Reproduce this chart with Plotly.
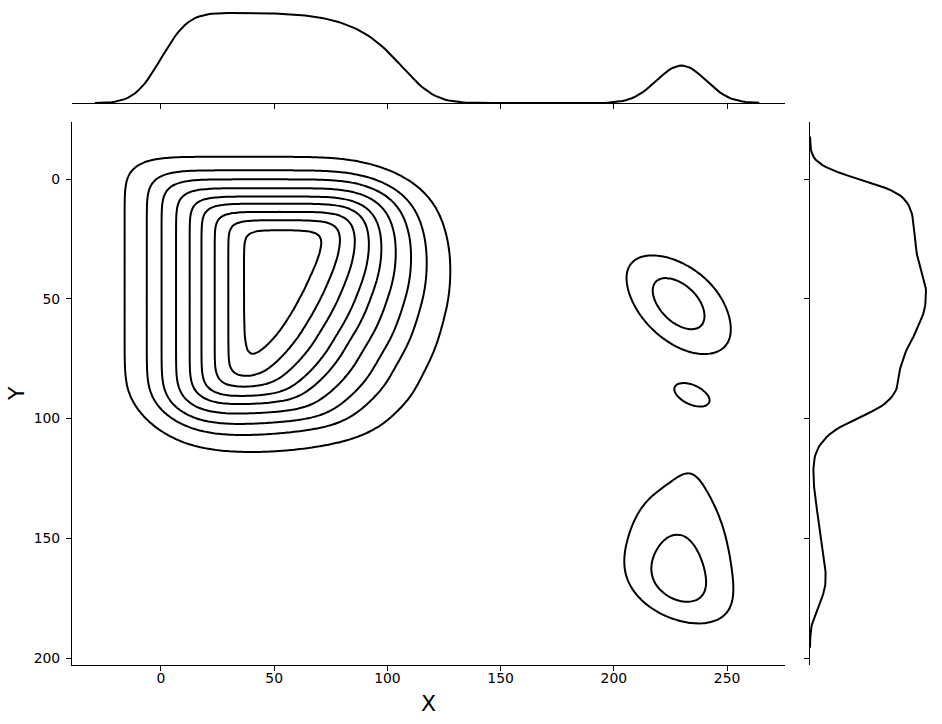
import numpy as np
import plotly.graph_objects as go

# ---------------- data ----------------
# Main cluster: observation counts in 10x10 bins (bin centres below)
BIN_W = 10
BIN_X = [5, 15, 25, 35, 45, 55, 65, 75, 85, 95, 105, 115]
BIN_Y = [5, 15, 25, 35, 45, 55, 65, 75, 85, 95, 105]
MAIN_COUNTS = [
    [60, 60, 60, 60, 60, 60, 60, 60, 60, 51, 24, 0],
    [60, 60, 60, 60, 60, 60, 60, 60, 60, 60, 46, 3],
    [60, 60, 60, 60, 60, 60, 60, 60, 60, 60, 57, 8],
    [60, 60, 60, 60, 60, 60, 60, 60, 60, 60, 57, 9],
    [60, 60, 60, 60, 60, 60, 60, 60, 60, 60, 50, 8],
    [60, 60, 60, 60, 60, 60, 60, 60, 60, 58, 36, 4],
    [60, 60, 60, 60, 60, 60, 60, 60, 60, 50, 24, 2],
    [60, 60, 60, 60, 60, 60, 60, 60, 57, 30, 12, 0],
    [60, 60, 60, 60, 60, 60, 60, 58, 40, 20, 5, 0],
    [56, 60, 60, 60, 60, 60, 58, 38, 18, 5, 0, 0],
    [12, 16, 18, 18, 17, 12, 8, 4, 0, 0, 0, 0],
]

# Small groups on the right: observation counts at (x, y)
CLUSTER_X = [224, 226, 228, 230, 232, 234,
             234.5,
             235, 235, 235, 234, 234, 234, 234, 234, 234, 234, 234, 234, 234,
             224, 224, 224, 224, 224, 224, 224, 224]
CLUSTER_Y = [38, 44, 50, 56, 62, 68,
             90,
             106, 112, 118, 124, 130, 136, 142, 148, 154, 160, 166, 172, 178,
             136, 142, 148, 154, 160, 166, 172, 178]
CLUSTER_N = [22, 48, 58, 54, 38, 18,
             42,
             4, 10, 12, 12, 14, 17, 20, 23, 25, 27, 29, 30, 16,
             7, 11, 17, 23, 29, 34, 36, 18]

# KDE settings
BW2_X, BW2_Y = 13.1, 7.93      # bivariate kernel std devs
KERNEL_RHO = 0.5               # bivariate kernel correlation
BW1_X, BW1_Y = 9.75, 5.9       # marginal kernel std devs
LEVEL_PROPS = np.linspace(0.05, 1, 10)
X_RANGE = [-39.3, 275.6]
Y_RANGE = [-23.8, 202.9]
X_TICKS = [0, 50, 100, 150, 200, 250]
Y_TICKS = [0, 50, 100, 150, 200]

# ---------------- computation ----------------
gx, gy = np.meshgrid(BIN_X, BIN_Y)
px = np.concatenate([gx.ravel(), np.array(CLUSTER_X, float)])
py = np.concatenate([gy.ravel(), np.array(CLUSTER_Y, float)])
pw = np.concatenate([np.array(MAIN_COUNTS, float).ravel(), np.array(CLUSTER_N, float)])
keep = pw > 0
px, py, pw = px[keep], py[keep], pw[keep]

H = np.array([[BW2_X ** 2, KERNEL_RHO * BW2_X * BW2_Y],
              [KERNEL_RHO * BW2_X * BW2_Y, BW2_Y ** 2]])
Hi = np.linalg.inv(H)

xx = np.linspace(X_RANGE[0], X_RANGE[1], 200)
yy = np.linspace(Y_RANGE[0], Y_RANGE[1], 200)
XX, YY = np.meshgrid(xx, yy)
dens = np.zeros_like(XX)
for x0, y0, w0 in zip(px, py, pw):
    dx = XX - x0
    dy = YY - y0
    q = Hi[0, 0] * dx * dx + 2 * Hi[0, 1] * dx * dy + Hi[1, 1] * dy * dy
    dens += w0 * np.exp(-0.5 * q)
dens /= (2 * np.pi * np.sqrt(np.linalg.det(H)) * pw.sum())

vals = np.sort(dens.ravel())[::-1]
cum = np.cumsum(vals) / vals.sum()
idx = np.clip(np.searchsorted(cum, 1 - LEVEL_PROPS), 0, vals.size - 1)
levels = vals[idx]

x_lo = BIN_X[0] - BIN_W / 2
y_lo = BIN_Y[0] - BIN_W / 2
x_hi = px.max()
y_hi = py.max()
mx = np.linspace(x_lo - 3 * BW1_X, x_hi + 3 * BW1_X, 200)
my = np.linspace(y_lo - 3 * BW1_Y, y_hi + 3 * BW1_Y, 200)
dx1 = (pw[None, :] * np.exp(-0.5 * ((mx[:, None] - px[None, :]) / BW1_X) ** 2)).sum(1)
dx1 /= pw.sum() * BW1_X * np.sqrt(2 * np.pi)
dy1 = (pw[None, :] * np.exp(-0.5 * ((my[:, None] - py[None, :]) / BW1_Y) ** 2)).sum(1)
dy1 /= pw.sum() * BW1_Y * np.sqrt(2 * np.pi)

# ---------------- figure ----------------
W, Hh = 942, 724
def fx(p): return p / W
def fy(p): return 1 - p / Hh

fig = go.Figure()
for lev in levels[:-1]:
    fig.add_trace(go.Contour(
        x=xx, y=yy, z=dens, autocontour=False,
        contours=dict(start=lev, end=lev, size=1, coloring='none'),
        line=dict(color='black', width=2), showscale=False,
        hoverinfo='skip', xaxis='x', yaxis='y'))

fig.add_trace(go.Scatter(x=mx, y=dx1, mode='lines', line=dict(color='black', width=2),
                         xaxis='x2', yaxis='y2', hoverinfo='skip'))
fig.add_trace(go.Scatter(x=dy1, y=my, mode='lines', line=dict(color='black', width=2),
                         xaxis='x3', yaxis='y3', hoverinfo='skip'))

axis_common = dict(showgrid=False, zeroline=False, showline=True, linecolor='black',
                   linewidth=1.1, ticks='outside', ticklen=5, tickwidth=1.1,
                   tickcolor='black')
fig.update_layout(
    width=W, height=Hh, margin=dict(l=0, r=0, t=0, b=0),
    paper_bgcolor='white', plot_bgcolor='white', showlegend=False,
    font=dict(family='DejaVu Sans', size=13.9, color='black'),
    xaxis=dict(domain=[fx(72), fx(785)], range=X_RANGE, anchor='y',
               tickvals=X_TICKS, ticklabelstandoff=-5, **axis_common),
    yaxis=dict(domain=[fy(665), fy(122)], range=[Y_RANGE[1], Y_RANGE[0]], anchor='x',
               tickvals=Y_TICKS, ticklabelstandoff=3, **axis_common),
    xaxis2=dict(domain=[fx(72), fx(785)], matches='x', anchor='y2',
                tickvals=X_TICKS, showticklabels=False, **axis_common),
    yaxis2=dict(domain=[fy(103), fy(8.5)], range=[0, dx1.max() * 1.05], anchor='x2',
                visible=False),
    xaxis3=dict(domain=[fx(810), fx(931.8)], range=[0, dy1.max() * 1.05], anchor='y3',
                visible=False),
    yaxis3=dict(domain=[fy(665), fy(122)], matches='y', anchor='x3',
                tickvals=Y_TICKS, showticklabels=False, **axis_common),
    annotations=[
        dict(text='X', x=fx(428.5), y=fy(703.5), xref='paper', yref='paper',
             xanchor='center', yanchor='middle', showarrow=False,
             font=dict(size=22, family='DejaVu Sans', color='black')),
        dict(text='Y', x=fx(16.5), y=fy(393.5), xref='paper', yref='paper',
             xanchor='center', yanchor='middle', showarrow=False, textangle=-90,
             font=dict(size=22, family='DejaVu Sans', color='black')),
    ],
)
fig.write_html("out.html")
